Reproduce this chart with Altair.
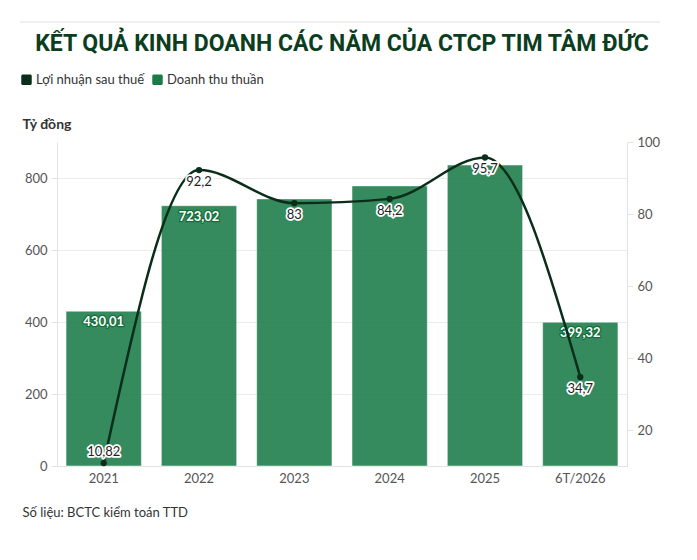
import altair as alt
import pandas as pd

years = ["2021", "2022", "2023", "2024", "2025", "6T/2026"]
revenue = [430.01, 723.02, 742.0, 778.0, 836.0, 399.32]
profit = [10.82, 92.2, 83.0, 84.2, 95.7, 34.7]
revenue_label_shown = [True, True, False, False, False, True]
series_names = ["Lợi nhuận sau thuế", "Doanh thu thuần"]
series_colors = ["#0b2e1a", "#1a7a48"]

title_text = "KẾT QUẢ KINH DOANH CÁC NĂM CỦA CTCP TIM TÂM ĐỨC"
unit_text = "Tỷ đồng"
source_text = "Số liệu: BCTC kiểm toán TTD"


def vn(v):
    return f"{v:g}".replace(".", ",")


bars_df = pd.DataFrame({
    "year": years,
    "value": revenue,
    "series": series_names[1],
    "label": [vn(v) for v in revenue],
    "show": revenue_label_shown,
})
line_df = pd.DataFrame({
    "year": years,
    "value": profit,
    "series": series_names[0],
    "label": [vn(v) for v in profit],
})

FONT = "Lato"

x = alt.X(
    "year:N",
    sort=years,
    scale=alt.Scale(paddingInner=0.21, paddingOuter=0.095),
    axis=alt.Axis(
        title=source_text,
        titleX=-35, titleY=50, titleAlign="left", titleBaseline="alphabetic",
        titleFontWeight="normal", titleFontSize=13, titleColor="#333333", titleFont=FONT,
        labelAngle=0, labelFontSize=13, labelColor="#555555", labelFont=FONT,
        labelPadding=6, ticks=False, domainColor="#e2e2e2", grid=False,
    ),
)

color = alt.Color(
    "series:N",
    scale=alt.Scale(domain=series_names, range=series_colors),
    legend=alt.Legend(
        title=None, orient="none", legendX=-37, legendY=-69, direction="horizontal",
        symbolType="M-0.7,-1H0.7A0.3,0.3 0 0 1 1,-0.7V0.7A0.3,0.3 0 0 1 0.7,1H-0.7A0.3,0.3 0 0 1 -1,0.7V-0.7A0.3,0.3 0 0 1 -0.7,-1Z",
        symbolSize=110, symbolStrokeWidth=0, symbolOpacity=1,
        labelFont=FONT, labelFontSize=13, labelColor="#333333",
        labelOffset=3, columnPadding=6,
    ),
)

y_left = alt.Y(
    "value:Q",
    scale=alt.Scale(domain=[0, 900], nice=False),
    axis=alt.Axis(
        values=[0, 200, 400, 600, 800], title=unit_text,
        titleAngle=0, titleX=-35, titleY=-14, titleAlign="left", titleBaseline="alphabetic",
        titleFont=FONT, titleFontSize=14, titleFontWeight="bold", titleColor="#333333",
        labelFont=FONT, labelFontSize=13, labelColor="#555555", labelPadding=4,
        tickSize=6, tickColor="#e2e2e2", domainColor="#e2e2e2",
        gridColor="#ebebeb", grid=True,
    ),
)

y_right = alt.Y(
    "value:Q",
    scale=alt.Scale(domain=[10, 100], nice=False),
    axis=alt.Axis(
        orient="right", values=[20, 40, 60, 80, 100], title=None,
        labelFont=FONT, labelFontSize=13, labelColor="#555555", labelPadding=4,
        tickSize=6, tickColor="#e2e2e2", domainColor="#e2e2e2", grid=False,
    ),
)

# ---- revenue (bars) ----
bar_base = alt.Chart(bars_df)
bars = bar_base.mark_bar(
    opacity=0.88, stroke="#ffffff", strokeOpacity=0.5, strokeWidth=1
).encode(color=color)

bar_lab = bar_base.transform_filter("datum.show").encode(text="label:N")
bar_halo = bar_lab.mark_text(
    font=FONT, fontSize=13, fontWeight="bold", baseline="middle", dy=11,
    stroke="#146e3a", strokeWidth=2.5, strokeJoin="round", fill="#146e3a",
)
bar_text = bar_lab.mark_text(
    font=FONT, fontSize=13, fontWeight="bold", baseline="middle", dy=11, fill="#ffffff",
)

left_layer = alt.layer(bars, bar_halo, bar_text).encode(x=x, y=y_left)

# ---- profit (line) ----
line_base = alt.Chart(line_df)
line = line_base.mark_line(interpolate="monotone", strokeWidth=2.5).encode(color=color)
points = line_base.mark_point(filled=True, size=40, opacity=1, color=series_colors[0])

lab_below = line_base.transform_filter(f"datum.year != '{years[0]}'").encode(text="label:N")
lab_above = line_base.transform_filter(f"datum.year == '{years[0]}'").encode(text="label:N")


def halo(base, dy):
    return base.mark_text(
        font=FONT, fontSize=13, baseline="middle", dy=dy,
        stroke="#ffffff", strokeWidth=3.5, strokeJoin="round", fill="#ffffff",
    )


def txt(base, dy):
    return base.mark_text(
        font=FONT, fontSize=13, baseline="middle", dy=dy, fill="#222222",
    )


right_layer = alt.layer(
    line, points,
    halo(lab_below, 12), txt(lab_below, 12),
    halo(lab_above, -11), txt(lab_above, -11),
).encode(x=alt.X("year:N", sort=years), y=y_right)

# thin separator line above the title
top_rule = alt.Chart(pd.DataFrame({"k": [0]})).mark_rule(
    color="#e0e0e0", strokeWidth=1
).encode(x=alt.value(-37), x2=alt.value(603), y=alt.value(-120))

chart = alt.layer(left_layer, right_layer, top_rule).resolve_scale(
    y="independent"
).properties(
    width=570,
    height=324,
    autosize=alt.AutoSizeParams(type="none"),
    padding={"left": 49, "top": 134, "right": 62, "bottom": 86},
    title=alt.TitleParams(
        text=title_text, font="Roboto", fontSize=23, fontWeight="bold",
        color="#0b3d1e", anchor="middle", offset=0, dy=34,
    ),
).configure_view(
    stroke=None
)

chart.save("out.html", embed_options={"renderer": "svg", "actions": False})
